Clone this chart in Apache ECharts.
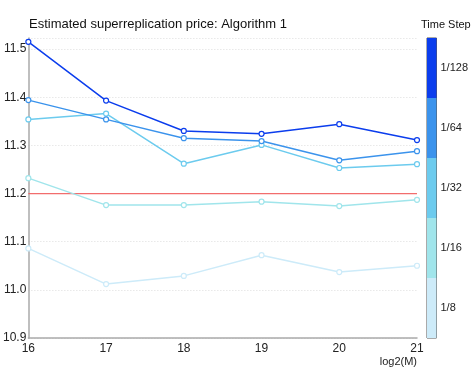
<!DOCTYPE html>
<html>
<head>
<meta charset="utf-8">
<script src="https://cdn.jsdelivr.net/npm/echarts@6/dist/echarts.min.js"></script>
<style>
  html, body { margin: 0; padding: 0; background: #fff; }
  #main { width: 471px; height: 377px; }
</style>
</head>
<body>
<div id="main"></div>
<script>
var logM = [16, 17, 18, 19, 20, 21];
var steps = ['1/8', '1/16', '1/32', '1/64', '1/128'];
var stepColors = ['#cdebf9', '#a0e5eb', '#6ccbee', '#3b93ec', '#0b3ded'];
var price8 = [11.086, 11.012, 11.029, 11.072, 11.037, 11.050];
var price16 = [11.232, 11.176, 11.176, 11.183, 11.174, 11.187];
var price32 = [11.354, 11.366, 11.262, 11.301, 11.253, 11.261];
var price64 = [11.394, 11.354, 11.315, 11.309, 11.269, 11.288];
var price128 = [11.515, 11.393, 11.330, 11.324, 11.344, 11.311];
var refPrice = 11.2;
var barUnit = [1, 1, 1, 1, 1];

var chart = echarts.init(document.getElementById('main'));
var allPrices = [price8, price16, price32, price64, price128];

function pairs(arr) {
  return arr.map(function (v, i) { return [logM[i], v]; });
}

var series = allPrices.map(function (arr, i) {
  return {
    name: steps[i],
    type: 'line',
    xAxisIndex: 0,
    yAxisIndex: 0,
    data: pairs(arr),
    symbol: 'circle',
    symbolSize: 5,
    showSymbol: true,
    lineStyle: { color: stepColors[i], width: 1.5 },
    itemStyle: { color: '#fff', borderColor: stepColors[i], borderWidth: 1.2, opacity: 1 },
    z: 3 + i,
    silent: true
  };
});

series.push({
  type: 'line',
  xAxisIndex: 0,
  yAxisIndex: 0,
  data: [[logM[0], refPrice], [logM[logM.length - 1], refPrice]],
  symbol: 'none',
  lineStyle: { color: '#f26d6d', width: 1.2 },
  z: 2,
  silent: true
});

series.push({
  type: 'bar',
  xAxisIndex: 1,
  yAxisIndex: 1,
  data: barUnit.map(function (v, i) {
    return { value: v, itemStyle: { color: stepColors[i] } };
  }),
  barWidth: '100%',
  barCategoryGap: 0,
  silent: true
});

var option = {
  backgroundColor: '#fff',
  animation: false,
  title: [{
    text: 'Estimated superreplication price: Algorithm 1',
    left: 24,
    top: 13,
    textStyle: { fontFamily: 'Liberation Sans', fontSize: 13, fontWeight: 'normal', color: '#111' }
  }, {
    text: 'Time Step',
    left: 416,
    top: 14,
    textStyle: { fontFamily: 'Liberation Sans', fontSize: 11, fontWeight: 'normal', color: '#111' }
  }],
  grid: [{
    left: 24, top: 38, width: 393, height: 300
  }, {
    left: 427, top: 38, width: 10, height: 300,
    show: true, borderColor: '#555', borderWidth: 1, backgroundColor: 'transparent'
  }],
  xAxis: [{
    type: 'value',
    gridIndex: 0,
    min: 16,
    max: 21,
    interval: 1,
    name: 'log2(M)',
    nameLocation: 'end',
    nameGap: 0,
    nameTextStyle: {
      fontFamily: 'Liberation Sans', fontSize: 11, color: '#222',
      align: 'right', verticalAlign: 'top', padding: [18, 0, 0, 0]
    },
    axisLine: { show: true, lineStyle: { color: '#aaa', width: 1.5 } },
    axisTick: { show: false },
    splitLine: { show: false },
    axisLabel: {
      fontFamily: 'Liberation Sans', fontSize: 12, color: '#222', margin: 5
    }
  }, {
    type: 'value',
    gridIndex: 1,
    min: 0,
    max: 1,
    show: false
  }],
  yAxis: [{
    type: 'value',
    gridIndex: 0,
    min: 10.9,
    max: 11.523,
    interval: 0.1,
    axisLine: { show: true, lineStyle: { color: '#aaa', width: 1.5 } },
    axisTick: { show: false },
    splitLine: { show: true, lineStyle: { color: '#ddd', type: [1, 2], width: 1 } },
    axisLabel: {
      fontFamily: 'Liberation Sans', fontSize: 12, color: '#222', margin: 2,
      showMaxLabel: false,
      formatter: function (v) { return v.toFixed(1); }
    }
  }, {
    type: 'category',
    gridIndex: 1,
    position: 'right',
    data: steps,
    axisLine: { show: false },
    axisTick: { show: false },
    splitLine: { show: false },
    axisLabel: { fontFamily: 'Liberation Sans', fontSize: 11, color: '#222', margin: 4 }
  }],
  series: series
};

chart.setOption(option);
</script>
</body>
</html>
